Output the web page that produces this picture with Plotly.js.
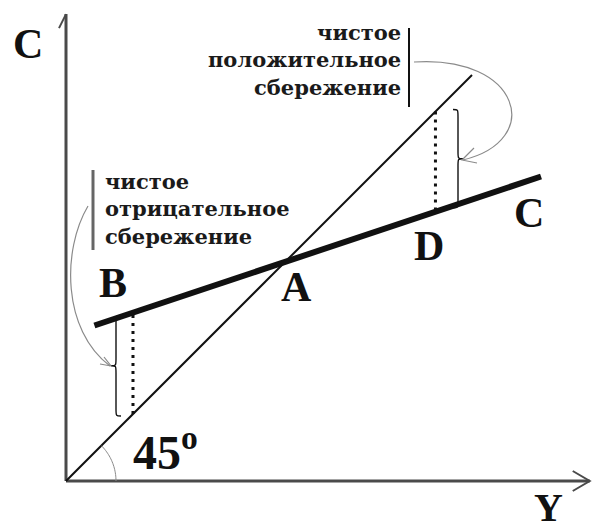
<!DOCTYPE html>
<html>
<head>
<meta charset="utf-8">
<script src="https://cdn.plot.ly/plotly-3.0.1.min.js"></script>
<style>
  html, body { margin: 0; padding: 0; background: #ffffff; }
  #chart { width: 592px; height: 531px; }
</style>
</head>
<body>
<div id="chart"></div>
<script>
// Income (Y) and consumption (C) in abstract units
const incomeAxisMax = 129;
const consumptionAxisMax = 115;

// 45-degree reference line (C = Y)
const line45Y = [0, 100];
const line45C = [0, 100];

// Consumption function
const consumptionY = [7, 117];
const consumptionC = [38.3, 75];

// Saving gaps: negative (left) and positive (right)
const gapY = [16.5, 91];
const gapOn45 = [16.5, 91];
const gapOnConsumption = [41.5, 66.3];

// Text
const pointLabels = ['B', 'A', 'D', 'C'];
const axisLabels = ['C', 'Y'];
const angleLabel = '45<sup>o</sup>';
const positiveSavingText = ['чистое', 'положительное', 'сбережение'];
const negativeSavingText = ['чистое', 'отрицательное', 'сбережение'];

// Screen geometry: origin and pixels per unit
const W = 592, H = 531;
const OX = 66, OY = 481, U = 4.06;
const dx = px => (px - OX) / U;        // pixel -> data x
const dy = py => (OY - py) / U;        // pixel -> data y
const pxX = x => OX + x * U;           // data x -> pixel
const pxY = y => OY - y * U;           // data y -> pixel

const black = '#111111';
const axisColor = '#4a4a4a';
const thin = '#8a8a8a';

const traces = [];

// axes
traces.push({x: [0, incomeAxisMax], y: [0, 0], mode: 'lines',
  line: {color: axisColor, width: 3}, hoverinfo: 'skip'});
traces.push({x: [0, 0], y: [0, consumptionAxisMax], mode: 'lines',
  line: {color: axisColor, width: 3}, hoverinfo: 'skip'});

// open arrowheads at the axis ends
(function () {
  const tx = pxX(incomeAxisMax), ty = pxY(0);
  traces.push({x: [dx(tx - 17), dx(tx), dx(tx - 17)], y: [dy(ty - 10), dy(ty), dy(ty + 10)],
    mode: 'lines', line: {color: axisColor, width: 2}, hoverinfo: 'skip'});
  const ux = pxX(0), uy = pxY(consumptionAxisMax);
  traces.push({x: [dx(ux - 7), dx(ux)], y: [dy(uy + 14), dy(uy)],
    mode: 'lines', line: {color: axisColor, width: 2}, hoverinfo: 'skip'});
})();

// 45-degree line
traces.push({x: line45Y, y: line45C, mode: 'lines',
  line: {color: black, width: 2}, hoverinfo: 'skip'});

// consumption function
traces.push({x: consumptionY, y: consumptionC, mode: 'lines',
  line: {color: black, width: 6}, hoverinfo: 'skip'});

// dotted saving gaps
gapY.forEach((g, i) => {
  traces.push({x: [g, g], y: [gapOn45[i], gapOnConsumption[i]], mode: 'lines',
    line: {color: black, width: 3, dash: '3px,5px'}, hoverinfo: 'skip'});
});

// path helper working in pixels, emitting data coordinates
function P(cmds) {
  return cmds.map(c => {
    const [op, ...pts] = c;
    const out = [];
    for (let i = 0; i < pts.length; i += 2) out.push(dx(pts[i]).toFixed(3) + ',' + dy(pts[i + 1]).toFixed(3));
    return op + ' ' + out.join(' ');
  }).join(' ');
}

// curly brace between y1 (top) and y2 (bottom); dir = -1 tip left, +1 tip right
function brace(x, y1, y2, dir, w) {
  const ym = (y1 + y2) / 2, s = x + dir * w / 2, t = x + dir * w, r = 7;
  return P([
    ['M', x, y1],
    ['C', s, y1, s, y1, s, y1 + r],
    ['L', s, ym - r],
    ['C', s, ym, s, ym, t, ym],
    ['C', s, ym, s, ym, s, ym + r],
    ['L', s, y2 - r],
    ['C', s, y2, s, y2, x, y2]
  ]);
}

const leftGapTop = pxY(gapOnConsumption[0]);
const rightGapBottom = pxY(gapOnConsumption[1]);
const rightGapTop = pxY(gapOn45[1]);

const shapes = [
  // braces
  {type: 'path', xref: 'x', yref: 'y', path: brace(121, leftGapTop + 3, 416, -1, 10),
   line: {color: black, width: 1.4}},
  {type: 'path', xref: 'x', yref: 'y', path: brace(453, rightGapTop - 2, rightGapBottom - 4, 1, 10),
   line: {color: black, width: 1.4}},
  // curved pointers from the captions to the braces
  {type: 'path', xref: 'x', yref: 'y',
   path: P([['M', 88, 206], ['C', 62, 250, 62, 330, 110, 366]]),
   line: {color: thin, width: 1.2}},
  {type: 'path', xref: 'x', yref: 'y',
   path: P([['M', 100, 364], ['L', 111, 366], ['L', 104, 357]]),
   line: {color: thin, width: 1.2}},
  {type: 'path', xref: 'x', yref: 'y',
   path: P([['M', 414, 62], ['C', 520, 55, 545, 140, 463, 160]]),
   line: {color: thin, width: 1.2}},
  {type: 'path', xref: 'x', yref: 'y',
   path: P([['M', 474, 148], ['L', 462, 160], ['L', 477, 163]]),
   line: {color: thin, width: 1.2}},
  // caption bars
  {type: 'line', xref: 'x', yref: 'y', x0: dx(409), x1: dx(409), y0: dy(28), y1: dy(107),
   line: {color: black, width: 2}},
  {type: 'line', xref: 'x', yref: 'y', x0: dx(93), x1: dx(93), y0: dy(170), y1: dy(250),
   line: {color: '#666666', width: 3}}
];

// angle arc at the origin
(function () {
  const r = 50, n = 24, pts = [];
  for (let k = 0; k <= n; k++) {
    const a = (Math.PI / 4) * k / n;
    pts.push([k === 0 ? 'M' : 'L', OX + r * Math.cos(a), OY - r * Math.sin(a)]);
  }
  shapes.push({type: 'path', xref: 'x', yref: 'y', path: P(pts),
    line: {color: thin, width: 1}});
})();

const serifBig = {family: 'Liberation Serif, serif', size: 42, color: black, weight: 'bold'};
const serifText = {family: 'DejaVu Serif, serif', size: 21, color: '#1a1a1a', weight: 'bold'};

function label(text, px, py, font, extra) {
  return Object.assign({xref: 'x', yref: 'y', x: dx(px), y: dy(py), text: text,
    showarrow: false, font: font, xanchor: 'center', yanchor: 'middle'}, extra || {});
}

const annotations = [
  label(axisLabels[0], 28, 44, serifBig),
  label(axisLabels[1], 548, 507, Object.assign({}, serifBig, {size: 40})),
  label(pointLabels[0], 113, 283, serifBig),
  label(pointLabels[1], 296, 287, serifBig),
  label(pointLabels[2], 429, 246, serifBig),
  label(pointLabels[3], 529, 213, serifBig),
  label(angleLabel, 165, 449, Object.assign({}, serifBig, {size: 48})),
  label(positiveSavingText.join('<br>'), 403, 60, serifText, {xanchor: 'right', align: 'right'}),
  label(negativeSavingText.join('<br>'), 103, 209, serifText, {xanchor: 'left', align: 'left'})
];

const layout = {
  width: W, height: H,
  margin: {l: 0, r: 0, t: 0, b: 0},
  paper_bgcolor: '#ffffff', plot_bgcolor: '#ffffff',
  showlegend: false,
  xaxis: {range: [dx(0), dx(W)], visible: false, fixedrange: true},
  yaxis: {range: [dy(H), dy(0)], visible: false, fixedrange: true},
  shapes: shapes,
  annotations: annotations
};

Plotly.newPlot('chart', traces, layout, {staticPlot: true, displayModeBar: false});
</script>
</body>
</html>
